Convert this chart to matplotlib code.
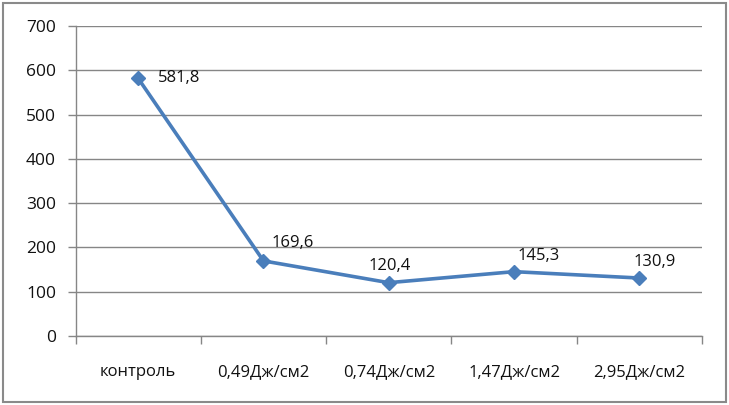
import matplotlib.pyplot as plt
import matplotlib.patches as patches
import numpy as np

# Data
categories = ['контроль', '0,49Дж/см2', '0,74Дж/см2', '1,47Дж/см2', '2,95Дж/см2']
values = [581.8, 169.6, 120.4, 145.3, 130.9]
value_labels = ['581,8', '169,6', '120,4', '145,3', '130,9']

# label offsets in pixels (left edge, vertical centre) relative to the point
label_offsets = [(20, 0), (8, 18), (-20, 17), (3, 16), (-6, 16)]

plt.rcParams['font.family'] = ['Open Sans', 'DejaVu Sans']

fig = plt.figure(figsize=(7.29, 4.05), dpi=100)
ax = fig.add_axes([75.5 / 729, 69 / 405, (702 - 75.5) / 729, (336 - 26) / 405])

grid_color = '#868686'
line_color = '#4A7EBB'
text_color = '#111111'

x = np.arange(len(categories))
ax.plot(x, values, color=line_color, linewidth=2.6, marker='D', markersize=7,
        markerfacecolor=line_color, markeredgecolor=line_color, zorder=3)

for xi, v, lab, (dx, dy) in zip(x, values, value_labels, label_offsets):
    ax.annotate(lab, (xi, v), xytext=(dx, dy), textcoords='offset pixels',
                ha='left', va='center', fontsize=12, color=text_color)

ax.set_xlim(-0.5, len(categories) - 0.5)
ax.set_ylim(0, 700)
ax.set_yticks(np.arange(0, 701, 100))
ax.yaxis.grid(True, color=grid_color, linewidth=1)
ax.set_axisbelow(True)

ax.set_xticks(x)
ax.set_xticklabels(categories, fontsize=12, color=text_color)
ax.set_xticks(np.arange(-0.5, len(categories)), minor=True)
ax.tick_params(axis='x', which='major', length=0, pad=20)
ax.tick_params(axis='x', which='minor', length=6, color=grid_color, width=1)
ax.tick_params(axis='y', length=6, color=grid_color, width=1, pad=8,
               labelsize=12.5, labelcolor=text_color)

for side in ['top', 'right']:
    ax.spines[side].set_visible(False)
for side in ['left', 'bottom']:
    ax.spines[side].set_color(grid_color)
    ax.spines[side].set_linewidth(1)

# outer chart border
fig.patches.append(patches.Rectangle((3 / 729, 3 / 405), 723 / 729, 399 / 405,
                                     transform=fig.transFigure, fill=False,
                                     edgecolor='#8a8a8a', linewidth=1.5))

fig.savefig('out.png', dpi=100)
